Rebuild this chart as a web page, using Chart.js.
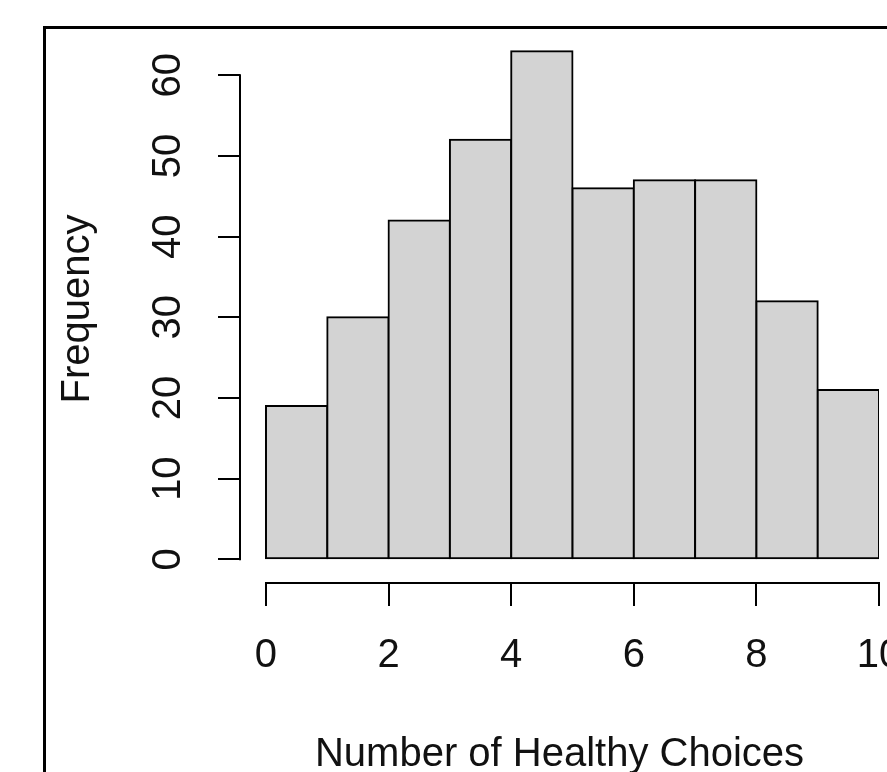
<!DOCTYPE html>
<html>
<head>
<meta charset="utf-8">
<script src="https://cdn.jsdelivr.net/npm/chart.js@4"></script>
<style>
  html, body { margin: 0; padding: 0; background: #fff; overflow: hidden; }
  canvas { display: block; }
</style>
</head>
<body>
<canvas id="histChart" width="887" height="772"></canvas>
<script>
Chart.defaults.font.family = "'Liberation Sans', Arial, sans-serif";
Chart.defaults.color = '#111';

// histogram bins and counts
var binEdges = [0, 1, 2, 3, 4, 5, 6, 7, 8, 9, 10];
var counts = [19, 30, 42, 52, 63, 46, 47, 47, 32, 21];
var xTicks = [0, 2, 4, 6, 8, 10];
var yTicks = [0, 10, 20, 30, 40, 50, 60];

var bars = counts.map(function (c, i) {
  return { x: (binEdges[i] + binEdges[i + 1]) / 2, y: c };
});

// R style detached axis lines + outer figure box
var rAxes = {
  id: 'rAxes',
  beforeDraw: function (chart) {
    var ctx = chart.ctx;
    ctx.save();
    ctx.strokeStyle = '#000';
    ctx.lineWidth = 3;
    ctx.strokeRect(44.5, 27.5, 1000, 1000);
    ctx.restore();
  },
  afterDraw: function (chart) {
    var ctx = chart.ctx;
    var xs = chart.scales.x, ys = chart.scales.y;
    var area = chart.chartArea;
    ctx.save();
    ctx.strokeStyle = '#000';
    ctx.lineWidth = 2;
    ctx.beginPath();
    ctx.moveTo(area.left, ys.getPixelForValue(yTicks[0]) + 1);
    ctx.lineTo(area.left, ys.getPixelForValue(yTicks[yTicks.length - 1]) - 1);
    ctx.moveTo(xs.getPixelForValue(xTicks[0]) - 1, area.bottom);
    ctx.lineTo(xs.getPixelForValue(xTicks[xTicks.length - 1]) + 1, area.bottom);
    ctx.stroke();
    ctx.restore();
  }
};

var ctx = document.getElementById('histChart');

var myChart = new Chart(ctx, {
  type: 'bar',
  data: {
    datasets: [{
      label: 'Frequency',
      data: bars,
      backgroundColor: '#d3d3d3',
      borderColor: '#000',
      borderWidth: 2,
      inflateAmount: 1,
      borderSkipped: false,
      barPercentage: 1,
      categoryPercentage: 1
    }]
  },
  options: {
    responsive: false,
    animation: false,
    devicePixelRatio: 1,
    layout: { padding: { top: 35, right: 8, bottom: 0, left: 0 } },
    plugins: {
      legend: { display: false },
      tooltip: { enabled: false }
    },
    scales: {
      x: {
        type: 'linear',
        min: -0.424,
        max: 10,
        offset: false,
        afterBuildTicks: function (scale) {
          scale.ticks = xTicks.map(function (v) { return { value: v }; });
        },
        afterFit: function (scale) {
          scale.height = 189;
          scale.paddingLeft = 0;
          scale.paddingRight = 0;
        },
        border: { display: false },
        grid: {
          offset: false,
          drawOnChartArea: false,
          drawTicks: true,
          tickLength: 23,
          color: '#000',
          lineWidth: 2
        },
        ticks: {
          autoSkip: false,
          maxRotation: 0,
          padding: 26,
          font: { size: 40 },
          color: '#111'
        },
        title: {
          display: true,
          text: 'Number of Healthy Choices',
          font: { size: 40, lineHeight: 1 },
          color: '#111',
          padding: { top: 0, bottom: -3 }
        }
      },
      y: {
        min: -2.94,
        max: 65,
        afterBuildTicks: function (scale) {
          scale.ticks = yTicks.map(function (v) { return { value: v }; });
        },
        afterFit: function (scale) {
          scale.width = 240;
          scale.paddingTop = 0;
          scale.paddingBottom = 0;
        },
        border: { display: false },
        grid: {
          drawOnChartArea: false,
          drawTicks: true,
          tickLength: 22,
          color: '#000',
          lineWidth: 2
        },
        ticks: {
          autoSkip: false,
          minRotation: 90,
          maxRotation: 90,
          crossAlign: 'center',
          padding: 27,
          font: { size: 40 },
          color: '#111'
        },
        title: {
          display: true,
          text: 'Frequency',
          font: { size: 40 },
          color: '#111',
          padding: { top: 54, bottom: 0 }
        }
      }
    }
  },
  plugins: [rAxes]
});
</script>
</body>
</html>
